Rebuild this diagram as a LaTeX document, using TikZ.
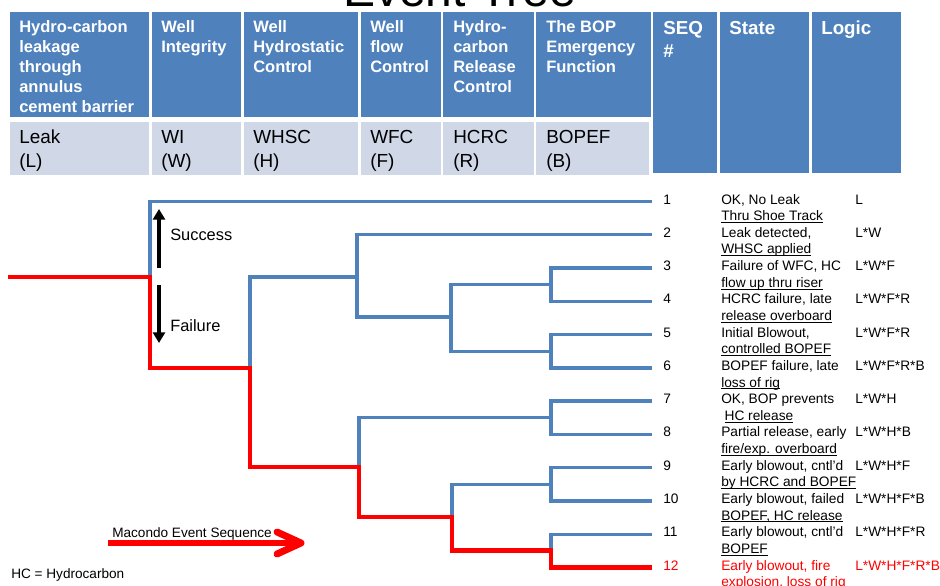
\documentclass[tikz,border=0pt]{standalone}
\usepackage{fontspec}
\setmainfont{Liberation Sans}
\usetikzlibrary{arrows.meta,fit}
\definecolor{hdrblue}{HTML}{4F81BD}
\definecolor{lowblue}{HTML}{D0D8E8}
\definecolor{treeblue}{HTML}{4F81BD}
\newcommand\ulx[1]{\setbox0=\hbox{#1}\rlap{\rule[-1.6pt]{\wd0}{0.6pt}}\box0}
\newcommand\mlines[1]{\vtop{\halign{##\hfil\cr#1\crcr}}}
\tikzset{
  hdrbox/.style={fill=hdrblue, draw=none, inner sep=0pt},
  lowbox/.style={fill=lowblue, draw=none, inner sep=0pt},
  hdrtxt/.style={anchor=base west, text=white, inner sep=0pt, font=\bfseries\fontsize{12.4}{15}\selectfont},
  bigtxt/.style={anchor=base west, text=white, inner sep=0pt, font=\bfseries\fontsize{14.1}{17.3}\selectfont},
  lowtxt/.style={anchor=base west, inner sep=0pt, font=\fontsize{14.2}{18}\selectfont},
  rowtxt/.style={anchor=base west, inner sep=0pt, font=\fontsize{10.3}{12.5}\selectfont},
  lbltxt/.style={anchor=base west, inner sep=0pt, font=\fontsize{12.3}{14}\selectfont},
  tree/.style={line width=2.5pt, draw=treeblue},
  redpath/.style={line width=3.5pt, draw=red},
  sfarrow/.style={line width=2.4pt, -{Triangle[length=8pt,width=9pt]}},
}
\begin{document}
\begin{tikzpicture}[x=0.75pt,y=-0.75pt]
\useasboundingbox (0,0) rectangle (940,586);
% title (cut off at top)
\node[anchor=base west, inner sep=0pt, font=\fontsize{36}{40}\selectfont] (title) at (343,6) {Event Tree};
% header boxes
\node[hdrbox, fit={(10,12) (149,117)}] (h1) {};
\node[hdrbox, fit={(152,12) (241,117)}] (h2) {};
\node[hdrbox, fit={(244,12) (358,117)}] (h3) {};
\node[hdrbox, fit={(361,12) (441,117)}] (h4) {};
\node[hdrbox, fit={(443,12) (534,117)}] (h5) {};
\node[hdrbox, fit={(536,12) (651,117)}] (h6) {};
\node[hdrbox, fit={(653,12) (717,173)}] (h7) {};
\node[hdrbox, fit={(720,12) (809,173)}] (h8) {};
\node[hdrbox, fit={(812,12) (901,173)}] (h9) {};
\node[lowbox, fit={(10,122) (149,175)}] (l1) {};
\node[lowbox, fit={(152,122) (241,175)}] (l2) {};
\node[lowbox, fit={(244,122) (358,175)}] (l3) {};
\node[lowbox, fit={(361,122) (441,175)}] (l4) {};
\node[lowbox, fit={(443,122) (534,175)}] (l5) {};
\node[lowbox, fit={(536,122) (649,175)}] (l6) {};
% header texts
\node[hdrtxt] (th1) at (19,32) {\mlines{Hydro-carbon\cr leakage\cr through\cr annulus\cr cement barrier}};
\node[hdrtxt] (th2) at (161,32) {\mlines{Well\cr Integrity}};
\node[hdrtxt] (th3) at (253,32) {\mlines{Well\cr Hydrostatic\cr Control}};
\node[hdrtxt] (th4) at (370,32) {\mlines{Well\cr flow\cr Control}};
\node[hdrtxt] (th5) at (453,32) {\mlines{Hydro-\cr carbon\cr Release\cr Control}};
\node[hdrtxt] (th6) at (546,32) {\mlines{The BOP\cr Emergency\cr Function}};
\node[bigtxt] (th7) at (663,34) {\mlines{SEQ\cr \#}};
\node[bigtxt] (th8) at (729,34) {State};
\node[bigtxt] (th9) at (821,34) {Logic};
% lower row texts
\node[lowtxt] (tl1) at (19,143) {\mlines{Leak\cr (L)}};
\node[lowtxt] (tl2) at (161,143) {\mlines{WI\cr (W)}};
\node[lowtxt] (tl3) at (253,143) {\mlines{WHSC\cr (H)}};
\node[lowtxt] (tl4) at (370,143) {\mlines{WFC\cr (F)}};
\node[lowtxt] (tl5) at (453,143) {\mlines{HCRC\cr (R)}};
\node[lowtxt] (tl6) at (546,143) {\mlines{BOPEF\cr (B)}};
% tree coordinates
\coordinate (s) at (8,277);
\coordinate (j0) at (150,277);
\coordinate (j1) at (250,368);
\coordinate (j2u) at (357,277);
\coordinate (j3u) at (451,317);
\coordinate (j4a) at (551,284.6);
\coordinate (j4b) at (551,351.2);
\coordinate (j2l) at (359,467);
\coordinate (j4c) at (551,417.8);
\coordinate (j3l) at (452,517);
\coordinate (j4d) at (551,484.3);
\coordinate (j4e) at (551,550.8);
\foreach \k/\y in {1/201.5,2/234.8,3/268.0,4/301.3,5/334.6,6/367.9,7/401.1,8/434.4,9/467.7,10/500.9,11/534.2,12/567.5}{
  \coordinate (e\k) at (652,\y);
  \coordinate (r\k) at (663,\y+2.5);
  \coordinate (st\k) at (721,\y+2.5);
  \coordinate (lg\k) at (855,\y+2.5);
}
% blue branches
\draw[tree] (j0) |- (e1);
\draw[tree] (j1) |- (j2u);
\draw[tree] (e2) -| (j2u) |- (j3u);
\draw[tree] (j4a) -| (j3u) |- (j4b);
\draw[tree] (e3) -| (j4a) |- (e4);
\draw[tree] (e5) -| (j4b) |- (e6);
\draw[tree] (j2l) |- (j4c);
\draw[tree] (e7) -| (j4c) |- (e8);
\draw[tree] (j3l) |- (j4d);
\draw[tree] (e9) -| (j4d) |- (e10);
\draw[tree] (j4e) |- (e11);
% red path
\draw[redpath] (s) -- (j0) |- (j1) |- (j2l) |- (j3l) |- (j4e) |- (e12);
% success / failure
\coordinate (su0) at (159,268); \coordinate (su1) at (159,209);
\coordinate (fa0) at (159,285); \coordinate (fa1) at (159,343);
\draw[sfarrow] (su0) -- (su1);
\draw[sfarrow] (fa0) -- (fa1);
\node[lbltxt] (succ) at (170,240) {Success};
\node[lbltxt] (fail) at (170,331.7) {Failure};
% sequence rows
\node[rowtxt] (n1) at (r1) {1};
\node[rowtxt] (n2) at (r2) {2};
\node[rowtxt] (n3) at (r3) {3};
\node[rowtxt] (n4) at (r4) {4};
\node[rowtxt] (n5) at (r5) {5};
\node[rowtxt] (n6) at (r6) {6};
\node[rowtxt] (n7) at (r7) {7};
\node[rowtxt] (n8) at (r8) {8};
\node[rowtxt] (n9) at (r9) {9};
\node[rowtxt] (n10) at (r10) {10};
\node[rowtxt] (n11) at (r11) {11};
\node[rowtxt,red] (n12) at (r12) {12};
\node[rowtxt] (s1) at (st1) {\mlines{OK, No Leak\cr \ulx{Thru Shoe Track}}};
\node[rowtxt] (s2) at (st2) {\mlines{Leak detected,\cr \ulx{WHSC applied}}};
\node[rowtxt] (s3) at (st3) {\mlines{Failure of WFC, HC\cr \ulx{flow up thru riser}}};
\node[rowtxt] (s4) at (st4) {\mlines{HCRC failure, late\cr \ulx{release overboard}}};
\node[rowtxt] (s5) at (st5) {\mlines{Initial Blowout,\cr \ulx{controlled BOPEF}}};
\node[rowtxt] (s6) at (st6) {\mlines{BOPEF failure, late\cr \ulx{loss of rig}}};
\node[rowtxt] (s7) at (st7) {\mlines{OK, BOP prevents\cr \hspace*{2.5pt}\ulx{HC release}}};
\node[rowtxt] (s8) at (st8) {\mlines{Partial release, early\cr \ulx{fire/exp. overboard}}};
\node[rowtxt] (s9) at (st9) {\mlines{Early blowout, cntl’d\cr \ulx{by HCRC and BOPEF}}};
\node[rowtxt] (s10) at (st10) {\mlines{Early blowout, failed\cr \ulx{BOPEF, HC release}}};
\node[rowtxt] (s11) at (st11) {\mlines{Early blowout, cntl’d\cr \ulx{BOPEF}}};
\node[rowtxt,red] (s12) at (st12) {\mlines{Early blowout, fire\cr \ulx{explosion, loss of rig}}};
\node[rowtxt] (g1) at (lg1) {L};
\node[rowtxt] (g2) at (lg2) {L*W};
\node[rowtxt] (g3) at (lg3) {L*W*F};
\node[rowtxt] (g4) at (lg4) {L*W*F*R};
\node[rowtxt] (g5) at (lg5) {L*W*F*R};
\node[rowtxt] (g6) at (lg6) {L*W*F*R*B};
\node[rowtxt] (g7) at (lg7) {L*W*H};
\node[rowtxt] (g8) at (lg8) {L*W*H*B};
\node[rowtxt] (g9) at (lg9) {L*W*H*F};
\node[rowtxt] (g10) at (lg10) {L*W*H*F*B};
\node[rowtxt] (g11) at (lg11) {L*W*H*F*R};
\node[rowtxt,red] (g12) at (lg12) {L*W*H*F*R*B};
% Macondo arrow
\coordinate (m0) at (108,543); \coordinate (m1) at (298,543);
\coordinate (mt) at (301,543); \coordinate (ma) at (277,532); \coordinate (mb) at (277,554);
\draw[line width=5.2pt, red] (m0) -- (m1);
\draw[line width=5.2pt, red, line cap=round, line join=round] (ma) -- (mt) -- (mb);
\node[anchor=base west, inner sep=0pt, font=\fontsize{10.2}{12}\selectfont] (mac) at (112,537) {Macondo Event Sequence};
\node[anchor=base west, inner sep=0pt, font=\fontsize{10.2}{12}\selectfont] (hc) at (11,578) {HC = Hydrocarbon};
\end{tikzpicture}
\end{document}
